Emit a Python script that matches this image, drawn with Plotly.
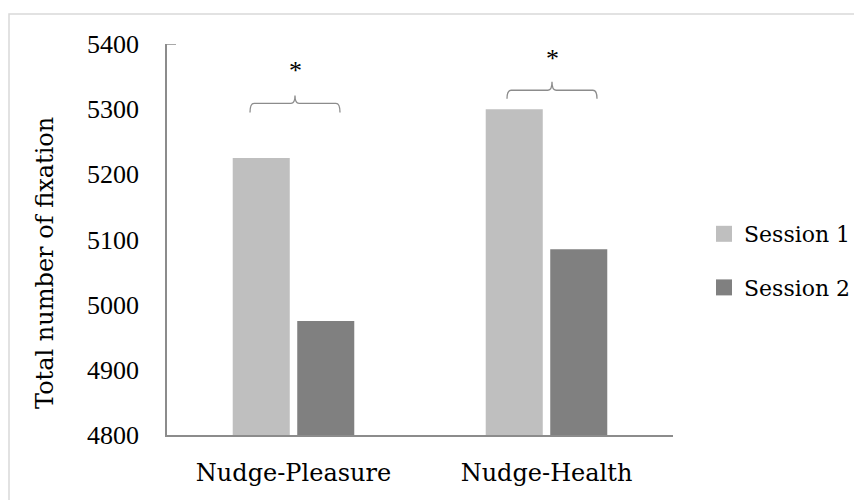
import plotly.graph_objects as go

categories = ["Nudge-Pleasure", "Nudge-Health"]
series_names = ["Session 1", "Session 2"]
session1 = [5225, 5300]
session2 = [4975, 5085]
colors = ["#bfbfbf", "#808080"]
y_ticks = [4800, 4900, 5000, 5100, 5200, 5300, 5400]

TEXT_FONT = "DejaVu Serif, serif"
NUM_FONT = "Liberation Serif, serif"
OFF = 8  # page body margin offset
W, H = 862, 500
L, T = 167 - OFF, 44 - OFF
R = W - (673 - OFF)
B = H - (435 - OFF)
pw, ph = W - L - R, H - T - B

def px2paper_x(px):
    return (px - OFF - L) / pw

def px2paper_y(py):
    return (H - B - (py - OFF)) / ph

fig = go.Figure()
for i, (name, vals) in enumerate(zip(series_names, [session1, session2])):
    fig.add_trace(go.Bar(
        x=categories, y=vals, name=name,
        marker=dict(color=colors[i], line=dict(width=0)),
        showlegend=False,
    ))
for i, name in enumerate(series_names):
    fig.add_trace(go.Scatter(
        x=[None], y=[None], mode="markers", name=name, legendgroup=name,
        marker=dict(symbol="square", size=17, color=colors[i], line=dict(width=0)),
        showlegend=True,
    ))

# significance brackets: (left px, right px, end y, horizontal y, tip y, star y)
brackets = [
    (250, 340, 5295, 5309, 5321, 5359),
    (507, 597, 5316, 5329, 5342, 5378),
]
shapes = []
annotations = []
for (xl, xr, yb, yh, yt, ys) in brackets:
    x0, x1 = px2paper_x(xl), px2paper_x(xr)
    xm = (x0 + x1) / 2
    d = 0.008
    path = (f"M {x0},{yb} Q {x0},{yh} {x0+d},{yh} L {xm-d},{yh} "
            f"Q {xm},{yh} {xm},{yt} Q {xm},{yh} {xm+d},{yh} "
            f"L {x1-d},{yh} Q {x1},{yh} {x1},{yb}")
    shapes.append(dict(type="path", path=path, xref="paper", yref="y",
                       line=dict(color="#8c8c8c", width=1.3)))
    annotations.append(dict(x=xm, y=ys, xref="paper", yref="y", text="*",
                            showarrow=False, xanchor="center", yanchor="middle",
                            font=dict(family=NUM_FONT, size=26, color="#000")))

# outer frame
shapes.append(dict(type="rect", xref="paper", yref="paper",
                   x0=px2paper_x(9), x1=px2paper_x(880),
                   y0=px2paper_y(520), y1=px2paper_y(14),
                   line=dict(color="#d9d9d9", width=1.5)))
# small top tick on y axis
shapes.append(dict(type="line", xref="paper", yref="y",
                   x0=0, x1=px2paper_x(176), y0=5400, y1=5400,
                   line=dict(color="#8c8c8c", width=1.5)))

annotations.append(dict(x=px2paper_x(45), y=px2paper_y(263), xref="paper", yref="paper",
                        xanchor="center", yanchor="middle",
                        text="Total number of fixation", textangle=-90, showarrow=False,
                        font=dict(family=TEXT_FONT, size=24, color="#000")))

fig.update_layout(
    width=W, height=H,
    margin=dict(l=L, r=R, t=T, b=B, autoexpand=False),
    paper_bgcolor="white", plot_bgcolor="white",
    barmode="group", bargap=0.49, bargroupgap=0.116,
    font=dict(family=TEXT_FONT, size=22, color="#000"),
    showlegend=True,
    legend=dict(x=px2paper_x(704), y=px2paper_y(213), xanchor="left", yanchor="top",
                font=dict(family=TEXT_FONT, size=22, color="#000"),
                tracegroupgap=22, traceorder="grouped", itemwidth=30,
                bgcolor="rgba(0,0,0,0)"),
    shapes=shapes,
    annotations=annotations,
    xaxis=dict(showline=True, linecolor="#8c8c8c", linewidth=1.5, showgrid=False,
               ticks="", ticklabelstandoff=15, automargin=False,
               tickfont=dict(family=TEXT_FONT, size=24)),
    yaxis=dict(range=[4800, 5400], tickvals=y_ticks, showline=True, linecolor="#8c8c8c",
               linewidth=1.5, showgrid=False, zeroline=False, ticks="", automargin=False,
               ticklabelstandoff=21, tickfont=dict(family=NUM_FONT, size=26)),
)

fig.write_html("out.html")
